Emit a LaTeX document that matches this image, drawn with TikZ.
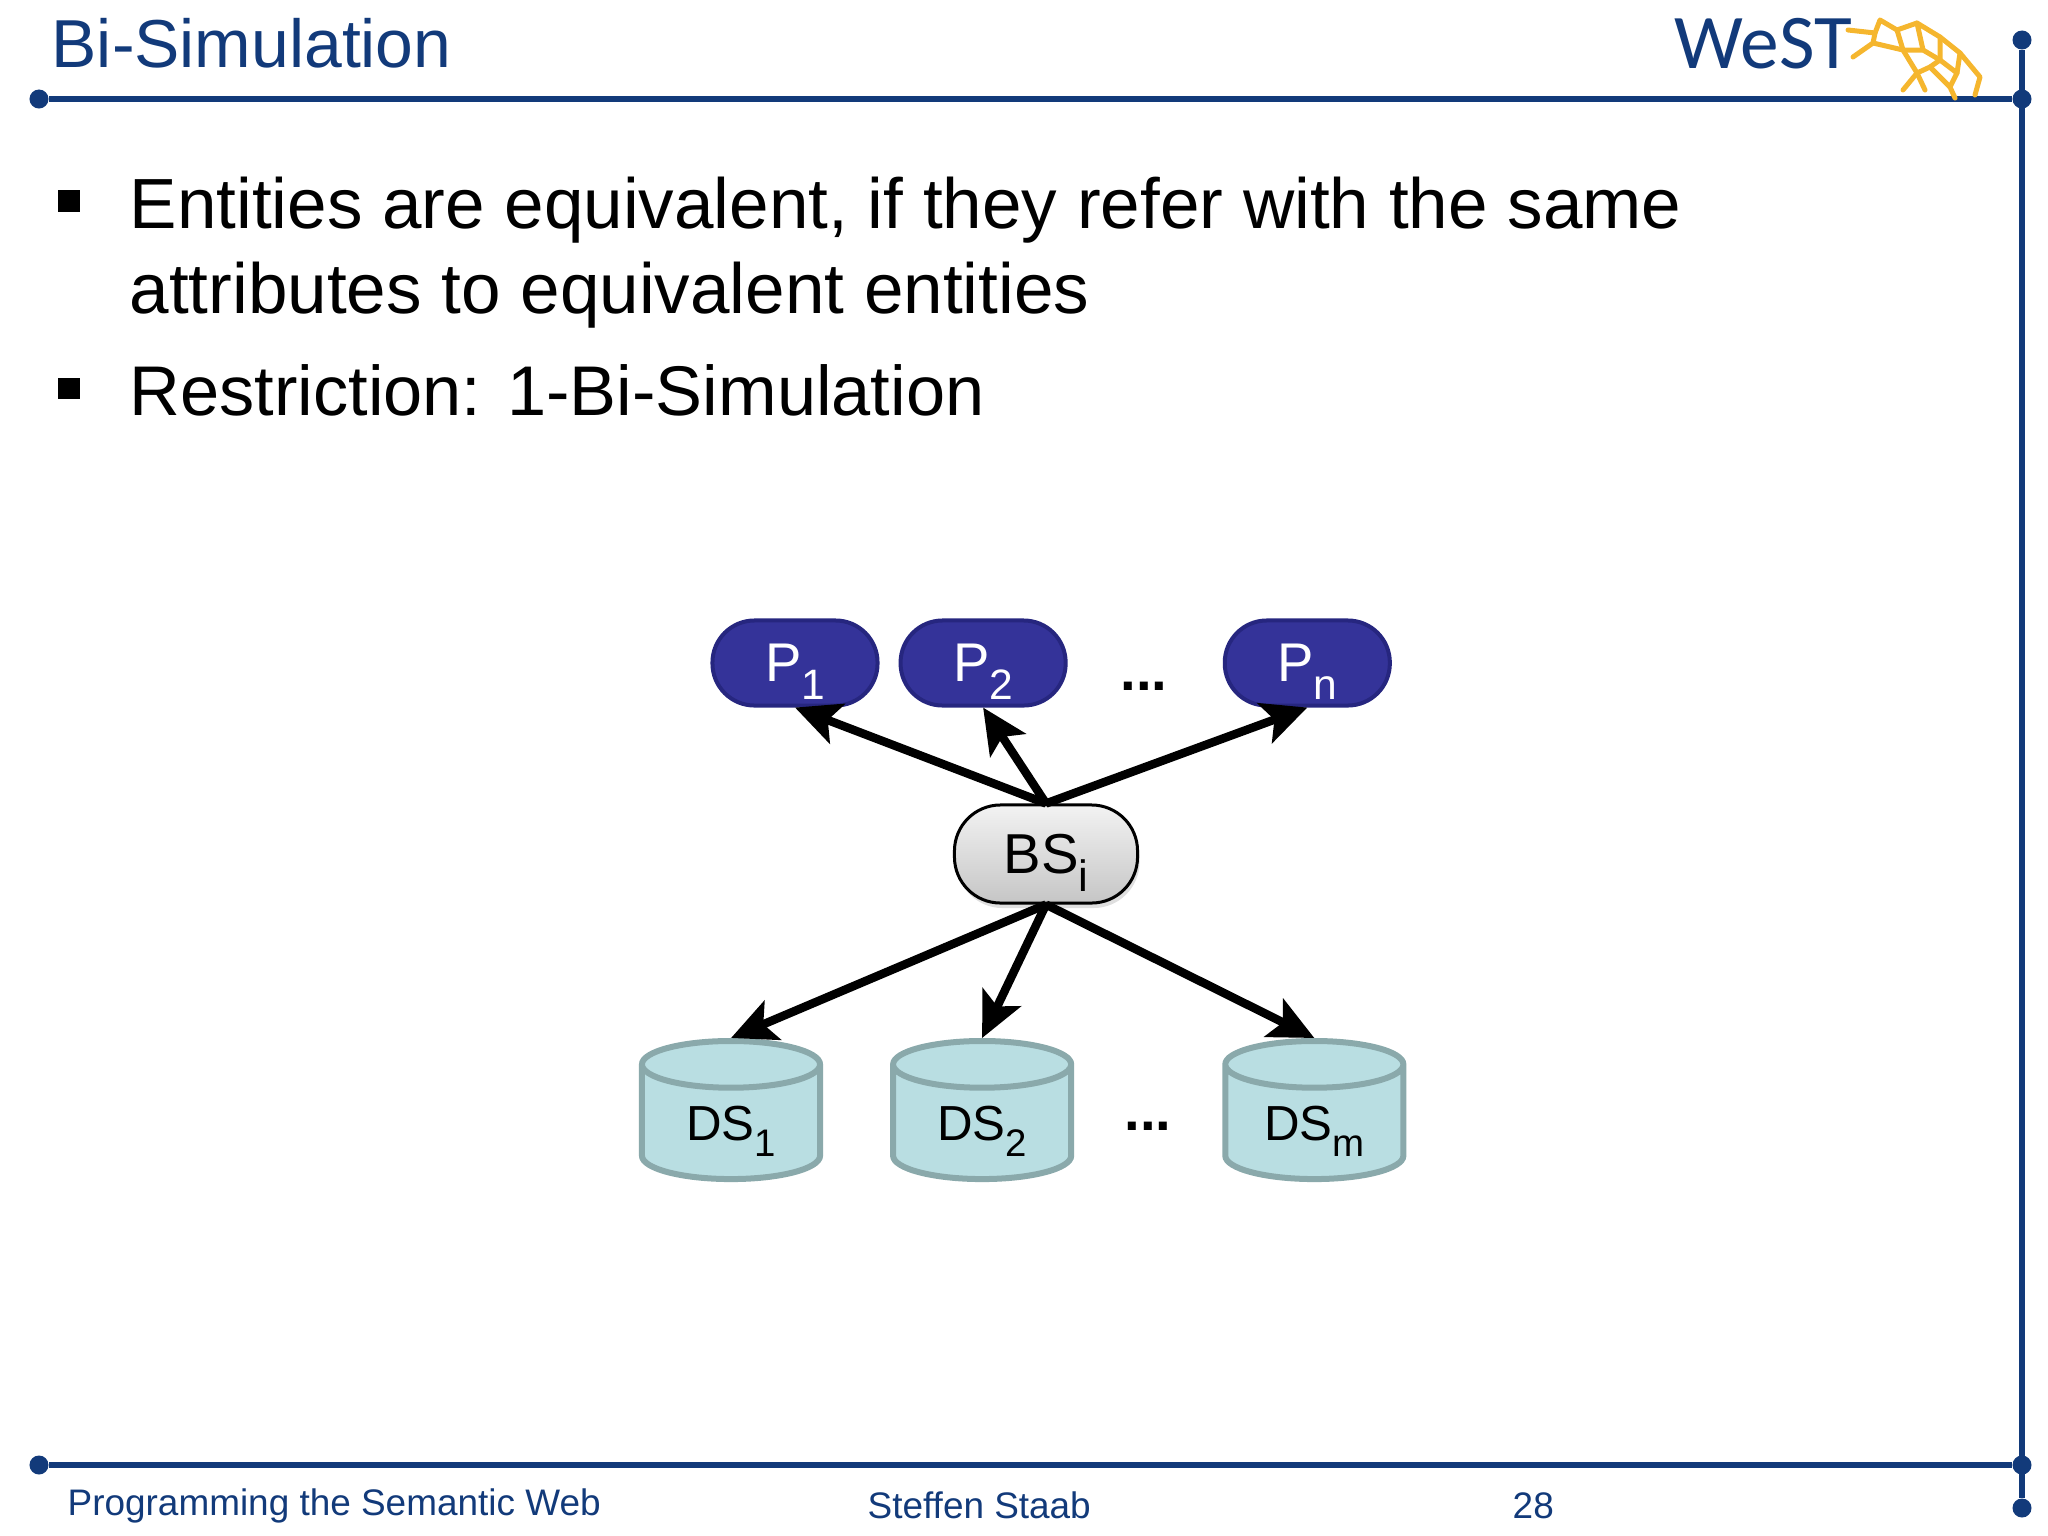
\documentclass[tikz,border=0pt]{standalone}
\usepackage{fontspec}
\setmainfont{Liberation Sans}
\newfontfamily\logofont{Carlito}
\usetikzlibrary{arrows.meta,shapes.geometric,shadows}
\definecolor{westblue}{HTML}{123A7A}
\definecolor{westgold}{HTML}{F5B62E}
\newcommand{\sbs}[1]{\raisebox{-0.32em}[0pt][0pt]{\scalebox{0.78}{#1}}}
\newcommand{\dsgap}{\phantom{DS\sbs{1}}}
\tikzset{
	slidetext/.style={anchor=base west,inner sep=0pt,font=\fontsize{20.2pt}{24pt}\selectfont},
	foot/.style={anchor=base west,inner sep=0pt,text=westblue,font=\fontsize{10.5pt}{12pt}\selectfont},
	pnode/.style={draw={rgb,255:red,38;green,38;blue,127},fill={rgb,255:red,52;green,51;blue,153},line width=0.04cm,rounded corners=0.42cm,minimum width=1.65cm,minimum height=0.85cm,text=white,font=\fontsize{15.5pt}{16pt}\selectfont},
	dsnode/.style={shape=cylinder,shape border rotate=90,aspect=0.42,draw={rgb,255:red,138;green,169;blue,171},fill={rgb,255:red,185;green,222;blue,226},line width=0.06cm,minimum width=1.78cm,minimum height=1.38cm,font=\fontsize{13.7pt}{16pt}\selectfont,label={[font=\fontsize{14pt}{16pt}\selectfont,yshift=0.055cm]center:#1}},
	dots/.style={inner sep=0pt,font=\bfseries\fontsize{16pt}{16pt}\selectfont},
	link/.style={line width=0.085cm,-{Stealth[length=0.45cm,width=0.42cm,inset=0.1cm]}},
	railpt/.style={shape=circle,fill=westblue,inner sep=0pt,minimum size=0.19cm},
	rail/.style={draw=westblue,line width=0.055cm},
	net/.style={draw=westgold,line width=0.05cm,line cap=round,line join=round}
}
\begin{document}
\begin{tikzpicture}[x=0.01cm,y=-0.01cm]
	\useasboundingbox (0,0) rectangle (2048,1536);

	% frame
	\node[railpt] (tl) at (39,99) {};
	\node[railpt] (tr) at (2022,99) {};
	\node[railpt] (bl) at (39,1465) {};
	\node[railpt] (br) at (2022,1465) {};
	\node[railpt] (rt) at (2022,40) {};
	\node[railpt] (rb) at (2022,1508) {};
	\draw[rail] (tl) -- (tr);
	\draw[rail] (bl) -- (br);
	\draw[rail] (rt) -- (rb);

	% logo
	\node[anchor=base west,inner sep=0pt,text=westblue,font=\logofont\fontsize{22pt}{24pt}\selectfont] (logo) at (1674,68) {WeST};
	\draw[net] (1848,30) -- (1875,33) -- (1880,20) -- (1897,30) -- (1917,23) -- (1940,37) -- (1960,53) -- (1980,77) -- (1975,95);
	\draw[net] (1853,57) -- (1873,43) -- (1875,33);
	\draw[net] (1873,43) -- (1903,50) -- (1923,50) -- (1940,60) -- (1957,73) -- (1960,53);
	\draw[net] (1897,30) -- (1903,50) -- (1917,73) -- (1903,90);
	\draw[net] (1917,73) -- (1930,67) -- (1940,60) -- (1940,37);
	\draw[net] (1917,23) -- (1923,50);
	\draw[net] (1930,67) -- (1950,87) -- (1957,73);
	\draw[net] (1950,87) -- (1955,98);
	\draw[net] (1917,73) -- (1925,90);

	% text
	\node[slidetext,text=westblue,font=\fontsize{19.3pt}{24pt}\selectfont] (title) at (51,67) {Bi-Simulation};
	\node[shape=rectangle,fill=black,inner sep=0pt,minimum size=0.21cm] (b1) at (69,201) {};
	\node[shape=rectangle,fill=black,inner sep=0pt,minimum size=0.21cm] (b2) at (69,388) {};
	\node[slidetext] (line1) at (129,228) {Entities are equivalent, if they refer with the same};
	\node[slidetext] (line2) at (129,313) {attributes to equivalent entities};
	\node[slidetext,font=\fontsize{20pt}{24pt}\selectfont] (line3) at (129,415) {Restriction: 1-Bi-Simulation};
	\node[foot] (course) at (67,1515) {Programming the Semantic Web};
	\node[foot] (speaker) at (867,1518) {Steffen Staab};
	\node[foot] (page) at (1512,1518) {28};

	% diagram
	\node[pnode] (p1) at (795,663) {P\sbs{1}};
	\node[pnode] (p2) [right of=p1,node distance=1.88cm] {P\sbs{2}};
	\node[pnode] (pn) [right of=p2,node distance=3.24cm] {P\sbs{n}};
	\node[dots] (pdots) at (1144,686) {...};
	\node[draw=black,line width=0.03cm,rounded corners=0.46cm,top color=gray!10,bottom color=gray!45,drop shadow={opacity=0.25,shadow xshift=0.02cm,shadow yshift=-0.05cm},minimum width=1.83cm,minimum height=0.98cm,font=\fontsize{16pt}{16pt}\selectfont] (bs) at (1046,854) {BS\sbs{i}};
	\node[dsnode={DS\sbs{1}}] (ds1) at (731,1129) {\dsgap};
	\node[dsnode={DS\sbs{2}}] (ds2) [right of=ds1,node distance=2.51cm] {\dsgap};
	\node[dsnode={DS\sbs{m}}] (dsm) [right of=ds2,node distance=3.32cm] {\dsgap};
	\node[dots] (dsdots) at (1148,1126) {...};

	\draw[link] (bs.north) -- (p1.south);
	\draw[link] (bs.north) -- (p2.south);
	\draw[link] (bs.north) -- (pn.south);
	\draw[link] (bs.south) -- (ds1.north);
	\draw[link] (bs.south) -- (ds2.north);
	\draw[link] (bs.south) -- (dsm.north);
\end{tikzpicture}
\end{document}
